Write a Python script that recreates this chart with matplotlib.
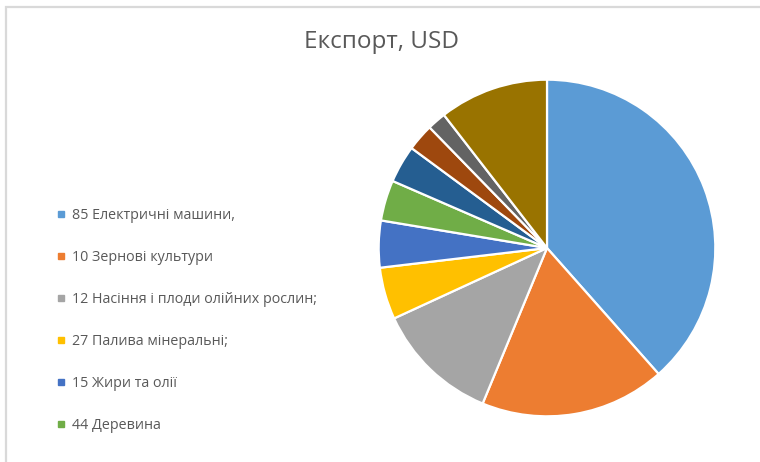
import matplotlib
matplotlib.use("Agg")
import matplotlib.pyplot as plt
from matplotlib.lines import Line2D
from matplotlib.patches import Rectangle

plt.rcParams["font.family"] = ["Open Sans", "DejaVu Sans"]

# export shares by commodity group (percent of total, USD)
shares = [38.5, 17.8, 11.9, 5.0, 4.5, 3.9, 3.6, 2.6, 1.8, 10.5]
colors = ["#5B9BD5", "#ED7D31", "#A5A5A5", "#FFC000", "#4472C4",
          "#70AD47", "#255E91", "#9E480E", "#636363", "#997300"]
# only the first six groups fit in the legend box
legend_labels = [
    "85 Електричні машини,",
    "10 Зернові культури",
    "12 Насіння і плоди олійних рослин;",
    "27 Палива мінеральні;",
    "15 Жири та олії",
    "44 Деревина",
]
title = "Експорт, USD"

W, H = 760, 462
fig = plt.figure(figsize=(W / 100, H / 100), dpi=100)

# chart area border (open at right/bottom, runs off the page)
fig.patches.append(Rectangle((6 / W, -0.1), 1.2, (H - 7) / H + 0.1,
                             transform=fig.transFigure, fill=False,
                             ec="#d9d9d9", lw=1.6))

fig.text(382 / W, 1 - 42 / H, title, ha="center", va="center",
         fontsize=17.5, color="#595959")

cx, cy, r = 547, 248, 170
ax = fig.add_axes([(cx - r) / W, (H - cy - r) / H, 2 * r / W, 2 * r / H])
ax.pie(shares, colors=colors, startangle=90, counterclock=False, radius=1,
       wedgeprops=dict(edgecolor="white", linewidth=1.6))
ax.set_xlim(-1.01, 1.01)
ax.set_ylim(-1.01, 1.01)
ax.set_aspect("equal")
ax.axis("off")

handles = [Line2D([0], [0], marker="s", ls="none", markersize=4,
                  markerfacecolor=c, markeredgecolor=c)
           for c in colors[:len(legend_labels)]]
leg = fig.legend(handles, legend_labels, loc="upper left",
                 bbox_to_anchor=(51 / W, 1 - 201 / H), frameon=False,
                 fontsize=10.3, labelcolor="#595959", handlelength=0.45,
                 handletextpad=0.5, labelspacing=1.88, borderpad=0)

fig.savefig("out.png", dpi=100)
